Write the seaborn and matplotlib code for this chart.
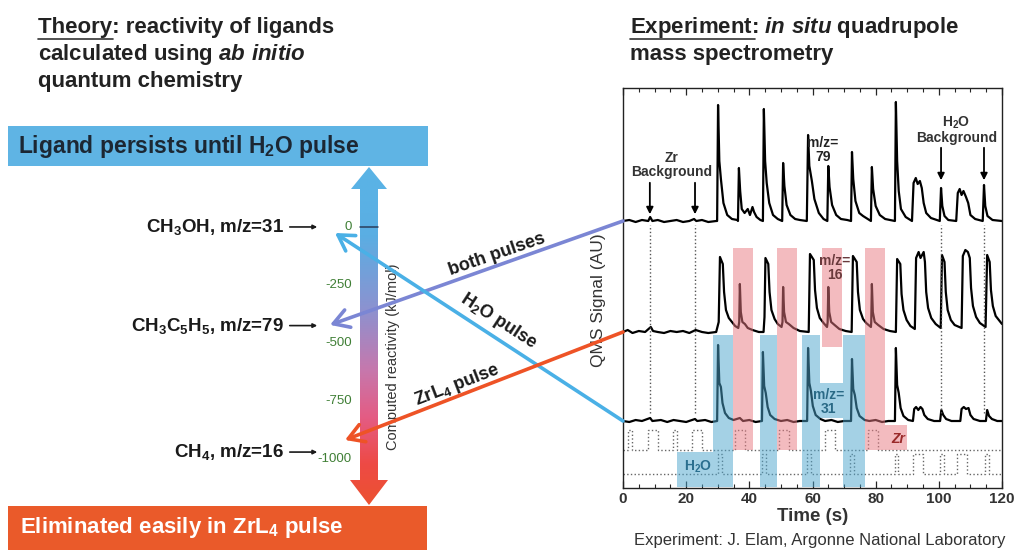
import numpy as np
import pandas as pd
import matplotlib
matplotlib.use("Agg")
import matplotlib.pyplot as plt
import seaborn as sns
from matplotlib.patches import Rectangle, Polygon, ConnectionPatch
from matplotlib.colors import LinearSegmentedColormap

sns.set_theme(style="white")
plt.rcParams['font.family'] = ['Liberation Sans', 'DejaVu Sans']
plt.rcParams['mathtext.fontset'] = 'custom'
plt.rcParams['mathtext.rm'] = 'Liberation Sans:bold'
plt.rcParams['mathtext.it'] = 'Liberation Sans:italic:bold'
plt.rcParams['mathtext.bf'] = 'Liberation Sans:bold'

# --- theory side: computed reactivity (kJ/mol) ---
ligands = ['CH$_3$OH, m/z=31', 'CH$_3$C$_5$H$_5$, m/z=79', 'CH$_4$, m/z=16']
reactivity = [0, -425, -970]
scale_ticks = [0, -250, -500, -750, -1000]

# --- experiment side: QMS traces (time s, signal above own baseline) ---
mz79 = [(0, 0), (2, 1), (4, -1), (6, 1), (8, 0), (8.6, 4), (9.3, 0), (11, 1), (13, -1), (15, 0),
        (17, 1), (19, -1), (21, 0), (22.5, 2), (23.2, 0), (25, 1), (27, -1), (29.5, 0),
        (29.8, 0), (30.1, 116), (30.5, 60), (31, 42), (31.8, 18), (33, 6), (34.5, 2), (36.2, 1),
        (36.4, 0), (36.7, 53), (37.1, 30), (37.6, 12), (38.5, 8), (39.5, 12), (40.2, 6), (41, 14),
        (41.5, 9), (42.3, 4), (43.5, 1), (44.3, 0),
        (44.6, 112), (45, 60), (45.5, 38), (46.3, 18), (47.5, 6), (49, 2), (50.4, 0),
        (50.7, 58), (51.1, 35), (51.8, 16), (53, 6), (54.5, 2), (56, 1), (58.2, 0),
        (58.6, 86), (59.0, 55), (59.8, 40), (60.6, 22), (62, 8), (63.5, 2), (64.7, 0),
        (65, 55), (65.4, 34), (66.2, 16), (67.5, 6), (69, 2), (71, 1), (72.2, 0),
        (72.5, 69), (72.9, 42), (73.6, 20), (74.8, 8), (76, 5), (77, 3), (78.5, 0),
        (78.8, 54), (79.2, 32), (80, 15), (81.3, 6), (83, 2), (86.1, 0),
        (86.4, 119), (86.8, 60), (87.3, 30), (88, 12), (89.5, 4), (91.5, 0),
        (92, 38), (92.7, 43), (93.3, 37), (94, 40), (94.6, 33), (95.2, 18), (96, 8), (97.5, 3), (100.3, 0),
        (100.7, 33), (101.1, 15), (101.8, 5), (103, 1), (105.5, 0),
        (106, 28), (106.6, 32), (107.2, 26), (107.8, 30), (108.6, 24), (109.3, 18), (110, 6),
        (111.5, 2), (113.9, 0),
        (114.3, 36), (114.7, 15), (115.4, 5), (117, 1), (120, 0)]

mz16 = [(0, 0), (1.5, 2), (3, -1), (5, 1), (7, 0), (8.8, 5), (9.5, 1), (11, 0), (13, -1), (15, 1),
        (17, 0), (19, 1), (21, -1), (23, 2), (25, 0), (27, -1), (29.5, 0),
        (30.3, 10), (30.7, 75), (31.6, 68), (32, 40), (32.6, 22), (33.5, 14), (34.5, 10), (35.5, 6), (36.5, 4),
        (36.8, 10), (37, 48), (37.3, 20), (37.8, 10), (38.6, 8), (39.5, 4), (41, 2), (43, 0), (44.5, 0),
        (44.8, 15), (45.1, 74), (46, 68), (46.4, 40), (47, 22), (48, 13), (49, 8), (50.2, 5),
        (50.5, 10), (50.7, 45), (51, 20), (51.6, 10), (52.5, 8), (54, 4), (56, 1), (58.8, 0),
        (59.2, 78), (60.4, 72), (60.8, 42), (61.4, 24), (62.3, 14), (63.5, 9), (64.6, 5),
        (64.8, 10), (65, 45), (65.3, 20), (65.9, 10), (67, 7), (68.5, 3), (70.5, 1), (72.4, 0),
        (72.8, 76), (74, 70), (74.4, 40), (75, 22), (76, 13), (77, 9), (78.5, 5),
        (78.6, 10), (78.8, 48), (79.1, 20), (79.7, 10), (80.8, 7), (82.5, 3), (84.5, 1), (86.4, 0),
        (86.8, 73), (87.8, 68), (88.2, 38), (88.8, 22), (89.8, 12), (91, 6), (92.4, 3),
        (92.8, 74), (93.6, 80), (94.2, 74), (95.2, 80), (95.6, 70), (96, 40), (96.6, 24), (97.6, 14),
        (99, 8), (100.6, 4),
        (101, 77), (101.8, 70), (102.2, 40), (102.8, 22), (103.8, 12), (105, 7), (107.2, 4),
        (107.6, 76), (108.4, 82), (109.2, 80), (109.8, 74), (110.2, 44), (110.8, 26), (111.8, 15),
        (113, 9), (114.8, 5),
        (115.3, 77), (116.1, 70), (116.5, 42), (117.1, 26), (118, 16), (119, 12), (120, 8)]

mz31 = [(0, 0), (2, -1), (4, 1), (6, 0), (8.6, 3), (9.3, 0), (12, 1), (14, -1), (16, 1), (18, 0),
        (20, -1), (22.8, 2), (23.5, 0), (26, 1), (28, -1), (29.8, 0),
        (30.1, 76), (30.5, 38), (31, 34), (31.5, 18), (32.3, 8), (33.5, 3), (35, 1), (37, 3), (38, 0),
        (40, 1), (42, -1), (44, 0),
        (44.3, 69), (44.7, 35), (45.2, 28), (45.8, 14), (46.6, 6), (48, 2), (50, 0), (52, 1), (54, -1),
        (56, 0), (58.3, 0),
        (58.6, 73), (59, 38), (59.5, 30), (60.1, 15), (61, 6), (62.5, 2), (64, 0), (66, 1), (68, -1),
        (70, 0), (72.2, 0),
        (72.5, 62), (72.9, 32), (73.4, 26), (74, 13), (74.9, 5), (76.5, 1), (78, 0), (80, 1), (82, -1),
        (84, 0), (86.1, 0),
        (86.4, 73), (86.8, 36), (87.3, 28), (87.9, 13), (88.8, 5), (90.3, 1), (91.8, 0),
        (92.2, 12), (92.8, 14), (93.5, 11), (94.2, 14), (94.8, 12), (95.4, 6), (96.5, 2), (98.5, 0),
        (100.4, 0),
        (100.8, 11), (101.4, 6), (102.3, 2), (104, 0), (106.8, 0),
        (107.2, 12), (107.9, 14), (108.6, 12), (109.4, 13), (110, 6), (111, 2), (113, 0), (114.9, 0),
        (115.3, 11), (115.9, 5), (116.8, 2), (118.5, 0), (120, 0)]

# precursor valve pulses (start s, width s)
zr_start = [1.6, 8.0, 15.8, 21.8, 35.5, 49.4, 64.0, 77.6]
zr_width = [1.3, 3.1, 1.3, 3.1, 3.1, 3.1, 3.1, 3.1]
h2o_start = [30.0, 44.0, 58.3, 71.9, 86.0, 91.8, 100.4, 105.8, 114.6]
h2o_width = [1.2, 1.2, 1.2, 1.2, 1.2, 3.1, 1.2, 3.1, 1.2]

# shaded windows (time from, time to, signal low, signal high)
pink_boxes = [(34.8, 41.2, 38, 240), (48.8, 55.1, 38, 240), (63.0, 69.3, 141, 240),
              (76.6, 83.0, 38, 240), (83.0, 90.0, 38, 63)]
blue_boxes = [(28.5, 34.8, 1, 153), (43.4, 48.8, 1, 153), (56.7, 62.4, 1, 153),
              (69.7, 76.6, 1, 153), (17.1, 28.5, 1, 36), (62.4, 69.7, 70, 105)]

baseline = {'mz79': 267, 'mz16': 156, 'mz31': 67, 'zr': 38, 'h2o': 14}
pulse_h = 20

fig = plt.figure(figsize=(10.17, 5.5), dpi=100)
fig.patch.set_facecolor('white')

# layout layer in pixel coordinates
lay = fig.add_axes([0, 0, 1, 1])
lay.set_xlim(0, 1017)
lay.set_ylim(550, 0)
lay.axis('off')

# reactivity layer: x in pixels, y in kJ/mol
ax_r = fig.add_axes([0, 0, 1, 1])
ax_r.set_xlim(0, 1017)
ax_r.set_ylim(-1392, 978)
ax_r.axis('off')

# headers
hdr = dict(fontsize=16, fontweight='bold', color='#222222', va='baseline')
lay.text(38, 33, 'Theory: reactivity of ligands', **hdr)
lay.text(38, 60, r'calculated using $\mathit{ab\ initio}$', **hdr)
lay.text(38, 87, 'quantum chemistry', **hdr)
lay.plot([38, 113], [39, 39], color='#333333', lw=1.2)
lay.text(630, 33, r'Experiment: $\mathit{in\ situ}$ quadrupole', **hdr)
lay.text(630, 60, 'mass spectrometry', **hdr)
lay.plot([630, 755], [39, 39], color='#333333', lw=1.2)

# banners
lay.add_patch(Rectangle((8, 126), 420, 40, color='#5fb4e4', lw=0))
lay.text(18, 147, 'Ligand persists until H$_2$O pulse', fontsize=16.5, fontweight='bold',
         color='#1c2733', va='center')
lay.add_patch(Rectangle((8, 506), 419, 44, color='#ea5a2a', lw=0))
lay.text(20, 528, 'Eliminated easily in ZrL$_4$ pulse', fontsize=16, fontweight='bold',
         color='white', va='center')

# gradient double arrow
cx = 369
arrow_pts = [(cx, 167), (cx + 18, 189), (cx + 9, 189), (cx + 9, 480), (cx + 19, 480), (cx, 505),
             (cx - 19, 480), (cx - 9, 480), (cx - 9, 189), (cx - 18, 189)]
cmap = LinearSegmentedColormap.from_list('react', [
    (0.0, '#5ab4e6'), (0.2, '#5aaee3'), (0.42, '#8c92d0'), (0.6, '#c678ad'),
    (0.74, '#e45c84'), (0.88, '#ee4a45'), (1.0, '#ec5230')])
grad = np.linspace(0, 1, 256).reshape(-1, 1)
im = lay.imshow(grad, cmap=cmap, aspect='auto', extent=(348, 390, 505, 167),
                origin='upper', zorder=1)
clip = Polygon(arrow_pts, closed=True, transform=lay.transData, facecolor='none', edgecolor='none')
lay.add_patch(clip)
im.set_clip_path(clip)
lay.set_xlim(0, 1017)
lay.set_ylim(550, 0)

ax_r.plot([360, 378], [0, 0], color='#2a3d5a', lw=1.1)
for v in scale_ticks:
    ax_r.text(352, v, str(v), ha='right', va='center', fontsize=9.5, color='#3f7f35')
ax_r.text(393, -560, 'Computed reactivity (kJ/mol)', rotation=90, ha='center', va='center',
          fontsize=10.5, color='#333333')

for name, r in zip(ligands, reactivity):
    ax_r.text(284, r, name, ha='right', va='center', fontsize=13.5, fontweight='bold',
              color='#1a1a1a')
    ax_r.annotate('', xy=(320, r), xytext=(287, r),
                  arrowprops=dict(arrowstyle='-|>', color='#1a1a1a', lw=1.2,
                                  mutation_scale=6))

# QMS panel
ax_q = fig.add_axes([623 / 1017, 62 / 550, 379 / 1017, 400 / 550])
ax_q.set_xlim(0, 120)
ax_q.set_ylim(0, 400)

for key, pts in [('mz79', mz79), ('mz16', mz16), ('mz31', mz31)]:
    df = pd.DataFrame(pts, columns=['t', 's'])
    df['s'] = df['s'] + baseline[key]
    sns.lineplot(data=df, x='t', y='s', ax=ax_q, color='black', lw=1.6,
                 estimator=None, sort=False, zorder=2)


def pulse_frame(starts, widths, base):
    t, s = [0.0], [0.0]
    for a, w in zip(starts, widths):
        t += [a, a, a + w, a + w]
        s += [0, pulse_h, pulse_h, 0]
    t.append(120.0)
    s.append(0.0)
    return pd.DataFrame({'t': t, 's': np.array(s) + base})


for starts, widths, key in [(zr_start, zr_width, 'zr'), (h2o_start, h2o_width, 'h2o')]:
    sns.lineplot(data=pulse_frame(starts, widths, baseline[key]), x='t', y='s', ax=ax_q,
                 color='#666666', lw=1.0, linestyle=':', estimator=None, sort=False, zorder=2)

for t in [8.5, 22.8, 100.7, 114.3]:
    ax_q.plot([t, t], [75, 263], color='#555555', lw=1.0, linestyle=':', zorder=2)

for a, b, lo, hi in pink_boxes:
    ax_q.add_patch(Rectangle((a, lo), b - a, hi - lo, facecolor='#e97981', alpha=0.5,
                             lw=0, zorder=3))
for a, b, lo, hi in blue_boxes:
    ax_q.add_patch(Rectangle((a, lo), b - a, hi - lo, facecolor='#4ba5cd', alpha=0.5,
                             lw=0, zorder=3))

lab = dict(ha='center', va='center', fontsize=10, fontweight='bold', linespacing=1.0, zorder=4)
ax_q.text(63.3, 338, 'm/z=\n79', color='#222222', **lab)
ax_q.text(67.1, 220, 'm/z=\n16', color='#6a3a3c', **lab)
ax_q.text(65.0, 86, 'm/z=\n31', color='#2a6a86', **lab)
ax_q.text(87.0, 49, 'Zr', color='#9a2a2a', style='italic', **lab)
ax_q.text(23.7, 21, 'H$_2$O', color='#2a6f8f', **lab)
ax_q.text(15.5, 323, 'Zr\nBackground', color='#333333', **lab)
ax_q.text(105.5, 358, 'H$_2$O\nBackground', color='#333333', **lab)
for t, y0, y1 in [(8.5, 308, 271), (22.8, 308, 271), (100.7, 343, 305), (114.3, 343, 305)]:
    ax_q.annotate('', xy=(t, y1), xytext=(t, y0),
                  arrowprops=dict(arrowstyle='-|>', color='black', lw=1.3, mutation_scale=10),
                  zorder=4)

ax_q.set_xticks(range(0, 121, 20))
ax_q.set_xticks(range(0, 121, 5), minor=True)
ax_q.set_yticks([])
ax_q.tick_params(axis='x', which='both', direction='in', top=True, bottom=True,
                 labelsize=11, pad=3)
ax_q.tick_params(axis='x', which='major', length=5, width=0.9)
ax_q.tick_params(axis='x', which='minor', length=3, width=0.8)
plt.setp(ax_q.get_xticklabels(), fontweight='bold', color='#333333')
for sp in ax_q.spines.values():
    sp.set_visible(True)
    sp.set_color('#222222')
    sp.set_linewidth(1.0)
ax_q.set_xlabel('Time (s)', fontsize=13.5, fontweight='bold', color='#333333')
ax_q.xaxis.set_label_coords(0.5, -0.05)
ax_q.set_ylabel('QMS Signal (AU)', fontsize=12.5, color='#333333')
ax_q.yaxis.set_label_coords(-0.045, 0.47)
ax_q.set_facecolor('white')

lay.text(820, 541, 'Experiment: J. Elam, Argonne National Laboratory', ha='center',
         va='center', fontsize=12, color='#333333')

# links between computed reactivity and measured traces
links = [('mz79', 330, -422, '#7b86d4'), ('mz31', 335, -26, '#4ab0e6'), ('mz16', 345, -918, '#ee5326')]
for key, x_tip, y_tip, col in links:
    con = ConnectionPatch(xyA=(0, baseline[key]), coordsA=ax_q.transData,
                          xyB=(x_tip, y_tip), coordsB=ax_r.transData,
                          arrowstyle='->, head_length=0.5, head_width=0.3',
                          mutation_scale=22, color=col, lw=2.6, zorder=5)
    fig.add_artist(con)

lt = dict(fontsize=13, fontweight='bold', color='#1a1a1a', ha='center', va='center',
          rotation_mode='anchor')
lay.text(497, 255, 'both pulses', rotation=19, **lt)
lay.text(499, 321, 'H$_2$O pulse', rotation=-33, **lt)
lay.text(457, 385, 'ZrL$_4$ pulse', rotation=21, **lt)

fig.savefig('out.png', dpi=100, facecolor='white')
